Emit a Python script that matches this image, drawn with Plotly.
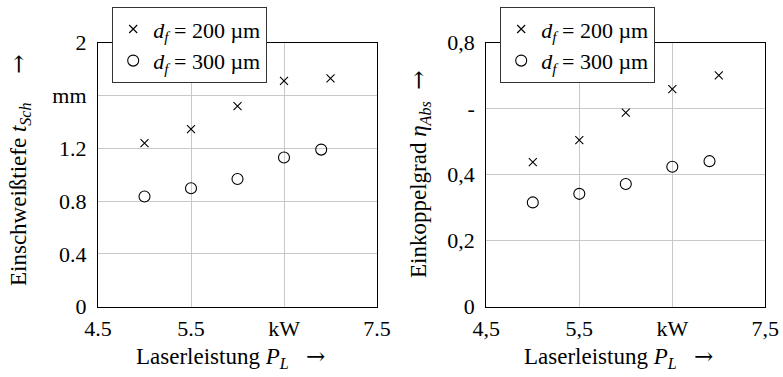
import plotly.graph_objects as go

# Data
power_x200 = [5.0, 5.5, 6.0, 6.5, 7.0]
power_x300 = [5.0, 5.5, 6.0, 6.5, 6.9]
depth_200 = [1.24, 1.345, 1.52, 1.71, 1.73]
depth_300 = [0.835, 0.897, 0.967, 1.13, 1.19]
absorp_200 = [0.438, 0.505, 0.588, 0.659, 0.701]
absorp_300 = [0.316, 0.342, 0.372, 0.424, 0.441]

x_tickvals = [4.5, 5.5, 6.5, 7.5]
x_ticktext_left = ["4.5", "5.5", "kW", "7.5"]
x_ticktext_right = ["4,5", "5,5", "kW", "7,5"]
y1_tickvals = [0, 0.4, 0.8, 1.2, 1.6, 2.0]
y1_ticktext = ["0", "0.4", "0.8", "1.2", "mm", "2"]
y2_tickvals = [0, 0.2, 0.4, 0.6, 0.8]
y2_ticktext = ["0", "0,2", "0,4", "-", "0,8"]

label_200 = "<i>d</i><sub><i>f</i></sub> = 200 µm"
label_300 = "<i>d</i><sub><i>f</i></sub> = 300 µm"

FONT = "Liberation Serif"
FS = 22
FT = 23

cross = dict(symbol="x-thin-open", size=8, color="black", line=dict(color="black", width=1.1))
circ = dict(symbol="circle-open", size=11, color="black", line=dict(color="black", width=1.1))

fig = go.Figure()
fig.add_trace(go.Scatter(x=power_x200, y=depth_200, mode="markers", marker=cross,
                         name=label_200, xaxis="x", yaxis="y", legend="legend"))
fig.add_trace(go.Scatter(x=power_x300, y=depth_300, mode="markers", marker=circ,
                         name=label_300, xaxis="x", yaxis="y", legend="legend"))
fig.add_trace(go.Scatter(x=power_x200, y=absorp_200, mode="markers", marker=cross,
                         name=label_200, xaxis="x2", yaxis="y2", legend="legend2"))
fig.add_trace(go.Scatter(x=power_x300, y=absorp_300, mode="markers", marker=circ,
                         name=label_300, xaxis="x2", yaxis="y2", legend="legend2"))

W, H = 783, 377
L1, R1 = 98, 377
L2, R2 = 486.3, 765.3
T, B = 42.7, 306.7

axis_common = dict(showline=True, linecolor="black", linewidth=1.2, mirror=True,
                   showgrid=True, gridcolor="#c8c8c8", gridwidth=1, zeroline=False,
                   automargin=False,
                   ticks="", tickfont=dict(family=FONT, size=FS, color="black"))

fig.update_layout(
    width=W, height=H,
    margin=dict(l=0, r=0, t=0, b=0, autoexpand=False),
    paper_bgcolor="white", plot_bgcolor="white",
    font=dict(family=FONT, size=FS, color="black"),
    xaxis=dict(domain=[L1 / W, R1 / W], range=[4.5, 7.5], tickvals=x_tickvals,
               ticktext=x_ticktext_left, anchor="y", ticklabelstandoff=2, **axis_common),
    yaxis=dict(domain=[1 - B / H, 1 - T / H], range=[0, 2], tickvals=y1_tickvals,
               ticktext=y1_ticktext, anchor="x", ticklabelstandoff=6, **axis_common),
    xaxis2=dict(domain=[L2 / W, R2 / W], range=[4.5, 7.5], tickvals=x_tickvals,
                ticktext=x_ticktext_right, anchor="y2", ticklabelstandoff=2, **axis_common),
    yaxis2=dict(domain=[1 - B / H, 1 - T / H], range=[0, 0.8], tickvals=y2_tickvals,
                ticktext=y2_ticktext, anchor="x2", ticklabelstandoff=6, **axis_common),
    legend=dict(x=112 / W, y=1 - 7 / H, xanchor="left", yanchor="top",
                bordercolor="#333333", borderwidth=1.2, bgcolor="white",
                font=dict(family=FONT, size=FS), itemwidth=30, tracegroupgap=0),
    legend2=dict(x=500 / W, y=1 - 7 / H, xanchor="left", yanchor="top",
                 bordercolor="#333333", borderwidth=1.2, bgcolor="white",
                 font=dict(family=FONT, size=FS), itemwidth=30, tracegroupgap=0),
    showlegend=True,
)

ARROW = "<span style='font-family:DejaVu Serif'>→</span>"
xt = "Laserleistung <i>P</i><sub><i>L</i></sub>&nbsp;&nbsp;&nbsp;" + ARROW
annots = [
    dict(text=xt, x=134 / W, y=1 - 357 / H, xanchor="left", yanchor="middle"),
    dict(text=xt, x=(134 + 388) / W, y=1 - 357 / H, xanchor="left", yanchor="middle"),
    dict(text="Einschweißtiefe <i>t</i><sub><i>Sch</i></sub>&nbsp;&nbsp;&nbsp;&nbsp;&nbsp;" + ARROW,
         x=20 / W, y=1 - 170 / H, xanchor="center", yanchor="middle", textangle=-90),
    dict(text="Einkoppelgrad <i>η</i><sub><i>Abs</i></sub>&nbsp;&nbsp;" + ARROW,
         x=419 / W, y=1 - 174 / H, xanchor="center", yanchor="middle", textangle=-90),
]
for a in annots:
    fig.add_annotation(xref="paper", yref="paper", showarrow=False,
                       font=dict(family=FONT, size=FT, color="black"), **a)

fig.write_html("out.html", config={"displayModeBar": False},
               post_script="document.body.style.margin='0px';")
